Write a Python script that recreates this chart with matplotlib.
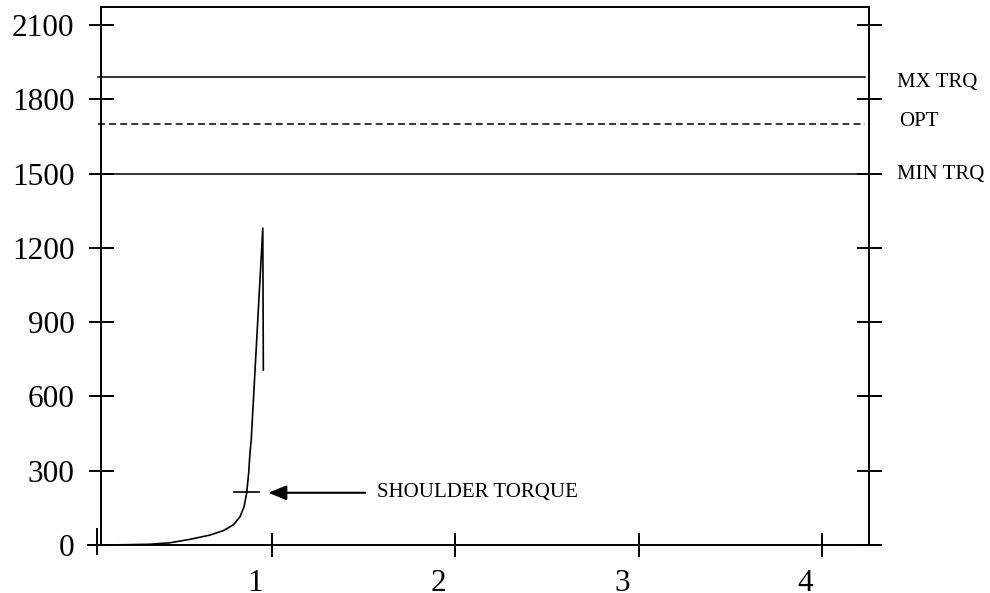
"""Torque vs turns chart with reference torque levels."""

import matplotlib

matplotlib.use("Agg")
import matplotlib.pyplot as plt
from matplotlib.transforms import ScaledTranslation, blended_transform_factory

# curve (turns, torque)
turns = [0.05, 0.2, 0.338, 0.447, 0.556, 0.664, 0.737, 0.791, 0.828, 0.85, 0.864,
         0.875, 0.882, 0.889, 0.952, 0.955]
torque = [0, 1, 3, 9, 23, 40, 58, 81, 114, 155, 209, 290, 370, 424, 1280, 707]

ref_levels = [1890, 1700, 1500]
ref_labels = ["MX TRQ", "OPT", "MIN TRQ"]
ref_styles = ["-", "--", "-"]
ref_label_y = [1868, 1712, 1497]

shoulder_torque = 215
shoulder_span = [0.795, 0.933]
arrow_tip = 0.982
arrow_tail = 1.51
shoulder_text = "SHOULDER TORQUE"

x_ticks = [1, 2, 3, 4]
y_ticks = [0, 300, 600, 900, 1200, 1500, 1800, 2100]

plt.rcParams["font.family"] = ["Liberation Serif", "DejaVu Serif"]
plt.rcParams["lines.scale_dashes"] = False

W, H = 990, 593
fig = plt.figure(figsize=(W / 100, H / 100), dpi=100)
ax = fig.add_axes([101 / W, (H - 545) / H, 768 / W, 538 / H])

ax.plot(turns, torque, color="black", linewidth=1.2)

for level, style in zip(ref_levels, ref_styles):
    ax.axhline(level, xmin=-0.004, xmax=0.995, color="black", linewidth=1.1,
               linestyle=style, dashes=(5, 3) if style == "--" else (None, None),
               clip_on=False)

right_trans = blended_transform_factory(ax.transAxes, ax.transData)
for label, ypos in zip(ref_labels, ref_label_y):
    ax.text(1.036 if label != "OPT" else 1.039, ypos, label, transform=right_trans,
            ha="left", va="center", fontsize=15)

# shoulder marker, arrow and label
ax.plot(shoulder_span, [shoulder_torque] * 2, color="black", linewidth=1.2)
ax.annotate("", xy=(arrow_tip, shoulder_torque - 4), xytext=(arrow_tail, shoulder_torque - 4),
            arrowprops=dict(arrowstyle="-|>,head_length=1.1,head_width=0.45",
                            color="black", linewidth=1.5, shrinkA=0, shrinkB=0))
ax.text(arrow_tail + 0.062, shoulder_torque - 4, shoulder_text, ha="left", va="center",
        fontsize=15)

ax.set_xlim(0.0708, 4.2538)
ax.set_ylim(0, 2173)
ax.set_xticks(x_ticks)
ax.set_yticks(y_ticks)
ax.set_xticklabels([str(t) for t in x_ticks])
ax.set_yticklabels([str(t) for t in y_ticks])

ax.tick_params(axis="y", direction="inout", length=18, width=1.4, pad=10,
               labelsize=22.5, left=True, right=True)
ax.tick_params(axis="x", direction="inout", length=17, width=1.4, pad=9,
               labelsize=22.5, top=False)
shift = ScaledTranslation(-17 / 100, 0, fig.dpi_scale_trans)
for lab in ax.get_xticklabels():
    lab.set_transform(lab.get_transform() + shift)

for side in ["left", "right", "top"]:
    ax.spines[side].set_linewidth(1.4)
ax.spines["bottom"].set_visible(False)
ax.plot([-0.017, 1.014], [0, 0], transform=ax.transAxes, color="black",
        linewidth=1.4, clip_on=False)
# small tick marking the origin, just left of the y axis
ax.plot([-0.005, -0.005], [-0.017, 0.03], transform=ax.transAxes, color="black",
        linewidth=1.4, clip_on=False)

fig.savefig("out.png", dpi=100, facecolor="white")
